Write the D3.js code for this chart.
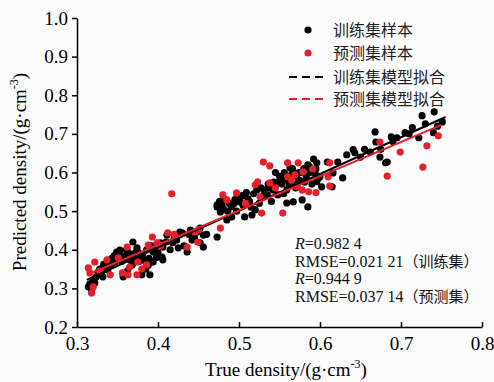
<!DOCTYPE html>
<html>
<head>
<meta charset="utf-8">
<script src="https://cdn.jsdelivr.net/npm/d3@7"></script>
<style>
  body { margin: 0; background: #fbfbfb; }
  svg { display: block; }
</style>
</head>
<body>
<svg id="chart" width="494" height="382"></svg>
<script>
// training samples [true, predicted]
const trainPts = [
  [0.314,0.304],[0.316,0.312],[0.318,0.296],[0.322,0.314],[0.320,0.322],[0.326,0.342],[0.324,0.330],[0.330,0.338],
  [0.335,0.355],[0.338,0.348],[0.342,0.360],[0.345,0.372],[0.349,0.394],[0.353,0.399],[0.350,0.380],[0.355,0.370],
  [0.357,0.330],[0.360,0.385],[0.363,0.394],[0.365,0.374],[0.368,0.360],[0.369,0.420],[0.372,0.392],[0.375,0.394],
  [0.378,0.380],[0.380,0.335],[0.382,0.350],[0.384,0.372],[0.388,0.360],[0.390,0.335],[0.394,0.368],[0.394,0.394],
  [0.398,0.380],[0.332,0.330],[0.340,0.365],[0.346,0.385],[0.362,0.345],[0.371,0.368],[0.386,0.400],[0.392,0.410],
  [0.328,0.350],[0.333,0.362],[0.343,0.378],[0.347,0.368],[0.352,0.388],[0.358,0.378],[0.361,0.400],[0.366,0.388],
  [0.370,0.382],[0.374,0.405],[0.377,0.370],[0.381,0.388],[0.385,0.350],[0.389,0.378],[0.396,0.400],[0.400,0.392],
  [0.405,0.381],[0.406,0.407],[0.406,0.374],[0.410,0.420],[0.411,0.438],[0.415,0.400],[0.420,0.430],[0.423,0.425],
  [0.427,0.446],[0.430,0.444],[0.432,0.410],[0.436,0.394],[0.440,0.451],[0.445,0.430],[0.452,0.418],[0.452,0.456],
  [0.456,0.407],[0.456,0.438],[0.460,0.440],[0.403,0.418],[0.418,0.418],[0.425,0.405],[0.438,0.440],[0.442,0.425],
  [0.448,0.445],
  [0.473,0.433],[0.473,0.511],[0.473,0.516],[0.477,0.498],[0.479,0.516],[0.481,0.505],[0.485,0.477],[0.488,0.520],
  [0.491,0.485],[0.491,0.511],[0.495,0.530],[0.497,0.500],[0.501,0.524],[0.501,0.529],[0.504,0.540],[0.507,0.485],
  [0.511,0.532],[0.515,0.510],[0.518,0.545],[0.520,0.503],[0.522,0.555],[0.525,0.520],[0.530,0.540],[0.535,0.542],
  [0.538,0.560],[0.540,0.525],[0.543,0.575],[0.547,0.573],[0.548,0.542],[0.550,0.590],[0.553,0.570],[0.556,0.600],
  [0.559,0.521],[0.559,0.555],[0.560,0.580],[0.563,0.612],[0.565,0.595],[0.567,0.524],[0.568,0.575],[0.570,0.560],
  [0.573,0.599],[0.575,0.580],[0.578,0.529],[0.580,0.610],[0.583,0.590],[0.585,0.620],[0.585,0.511],[0.588,0.600],
  [0.590,0.570],[0.592,0.635],[0.595,0.610],[0.596,0.625],[0.598,0.585],[0.600,0.589],[0.596,0.576],[0.602,0.563],
  [0.516,0.490],[0.527,0.560],[0.555,0.545],[0.545,0.600],
  [0.476,0.525],[0.483,0.530],[0.486,0.500],[0.494,0.520],[0.498,0.540],[0.505,0.515],[0.509,0.548],[0.513,0.525],
  [0.531,0.555],[0.536,0.570],[0.542,0.555],[0.551,0.580],[0.557,0.590],[0.562,0.568],[0.566,0.610],[0.571,0.590],
  [0.576,0.600],[0.581,0.575],[0.587,0.615],[0.594,0.598],
  [0.609,0.627],[0.615,0.563],[0.616,0.599],[0.622,0.627],[0.628,0.586],[0.633,0.646],[0.641,0.659],[0.643,0.651],
  [0.650,0.640],[0.655,0.660],[0.662,0.653],[0.668,0.705],[0.669,0.679],[0.674,0.640],[0.675,0.660],[0.681,0.625],
  [0.683,0.627],[0.688,0.692],[0.690,0.680],[0.695,0.690],[0.705,0.703],[0.710,0.700],[0.714,0.716],[0.722,0.690],
  [0.726,0.747],[0.730,0.726],[0.740,0.703],[0.741,0.757],[0.751,0.731],[0.745,0.720]
];

// prediction (test) samples
const testPts = [
  [0.314,0.353],[0.318,0.288],[0.320,0.304],[0.322,0.368],[0.316,0.340],[0.328,0.345],[0.337,0.374],[0.341,0.335],
  [0.351,0.379],[0.356,0.340],[0.362,0.407],[0.363,0.335],[0.365,0.355],[0.374,0.335],[0.375,0.368],[0.380,0.350],
  [0.386,0.361],[0.388,0.412],[0.393,0.433],[0.399,0.418],[0.403,0.410],[0.412,0.444],[0.417,0.545],[0.420,0.440],
  [0.436,0.407],[0.446,0.446],[0.449,0.420],[0.450,0.452],
  [0.477,0.456],[0.480,0.542],[0.485,0.529],[0.497,0.547],[0.508,0.520],[0.520,0.568],[0.523,0.576],[0.526,0.537],
  [0.528,0.495],[0.530,0.627],[0.538,0.617],[0.538,0.573],[0.545,0.560],[0.554,0.495],[0.560,0.625],[0.560,0.589],
  [0.565,0.580],[0.569,0.594],[0.572,0.563],[0.573,0.625],[0.578,0.555],[0.579,0.602],[0.586,0.550],[0.591,0.609],
  [0.595,0.548],[0.610,0.589],[0.612,0.625],[0.612,0.565],
  [0.674,0.679],[0.683,0.591],[0.699,0.653],[0.727,0.614],[0.732,0.669],[0.746,0.695]
];

// linear fits: [slope, intercept, xStart, xEnd]
const trainFit = [0.952, 0.025, 0.312, 0.755];
const testFit = [0.887, 0.058, 0.312, 0.750];

const xTicks = [0.3, 0.4, 0.5, 0.6, 0.7, 0.8];
const yTicks = [0.2, 0.3, 0.4, 0.5, 0.6, 0.7, 0.8, 0.9, 1.0];

const legendLabels = ['训练集样本', '预测集样本', '训练集模型拟合', '预测集模型拟合'];
const statLines = [
  { r: true, text: '=0.982 4' },
  { r: false, text: 'RMSE=0.021 21（训练集）' },
  { r: true, text: '=0.944 9' },
  { r: false, text: 'RMSE=0.037 14（预测集）' }
];

const RED = '#e4202a';
const serif = '"Liberation Serif", "Times New Roman", serif';
const cjk = '"Noto Sans CJK SC", sans-serif';

const svg = d3.select('#chart');

const x = d3.scaleLinear().domain([0.3, 0.8]).range([77, 482]);
const y = d3.scaleLinear().domain([0.2, 1.0]).range([327, 18]);

// axes
const xAxis = d3.axisBottom(x).tickValues(xTicks).tickFormat(d3.format('.1f'))
  .tickSizeInner(-5).tickSizeOuter(0).tickPadding(10);
const yAxis = d3.axisLeft(y).tickValues(yTicks).tickFormat(d3.format('.1f'))
  .tickSizeInner(5).tickSizeOuter(0).tickPadding(4);

const gx = svg.append('g').attr('transform', 'translate(0,327)').call(xAxis);
const gy = svg.append('g').attr('transform', 'translate(77,0)').call(yAxis);

[gx, gy].forEach(g => {
  g.select('.domain').attr('stroke', '#000').attr('stroke-width', 1.5);
  g.selectAll('.tick line').attr('stroke', '#000').attr('stroke-width', 1.5);
  g.selectAll('.tick text').attr('fill', '#000')
    .style('font-family', serif).style('font-size', '19px');
});

// points
svg.append('g').selectAll('circle').data(trainPts).join('circle')
  .attr('cx', d => x(d[0])).attr('cy', d => y(d[1])).attr('r', 3.6).attr('fill', '#000');
svg.append('g').selectAll('circle').data(testPts).join('circle')
  .attr('cx', d => x(d[0])).attr('cy', d => y(d[1])).attr('r', 3.6).attr('fill', RED);

// fit lines
function fitLine(f, color) {
  const pts = [f[2], f[3]].map(v => [x(v), y(f[0] * v + f[1])]);
  svg.append('path').attr('d', d3.line()(pts))
    .attr('stroke', color).attr('stroke-width', 2).attr('fill', 'none');
}
fitLine(trainFit, '#000');
fitLine(testFit, RED);

// legend
const legend = svg.append('g');
const legendY = [30, 53, 77, 99];
legendLabels.forEach((lab, i) => {
  const ly = legendY[i];
  const color = (i % 2 === 0) ? '#000' : RED;
  if (i < 2) {
    legend.append('circle').attr('cx', 308).attr('cy', ly).attr('r', 3.6).attr('fill', color);
  } else {
    legend.append('line').attr('x1', 289).attr('x2', 328).attr('y1', ly).attr('y2', ly)
      .attr('stroke', color).attr('stroke-width', 1.8).attr('stroke-dasharray', '8,5');
  }
  legend.append('text').attr('x', 333).attr('y', ly).attr('dy', '0.36em')
    .style('font-family', cjk).style('font-size', '16px').attr('fill', '#222')
    .text(lab);
});

// stats text
const statY = [243, 261, 278, 296];
statLines.forEach((s, i) => {
  const t = svg.append('text').attr('x', 295).attr('y', statY[i]).attr('dy', '0.36em')
    .style('font-family', serif).style('font-size', '16px').attr('fill', '#111');
  if (s.r) t.append('tspan').style('font-style', 'italic').text('R');
  const m = s.text.match(/^([^（]*)(（.*）)?$/);
  t.append('tspan').text(m[1]);
  if (m[2]) t.append('tspan').style('font-family', cjk).style('font-size', '15px').text(m[2]);
});

// axis titles
const xt = svg.append('text').attr('x', 286).attr('y', 376).attr('text-anchor', 'middle')
  .style('font-family', serif).style('font-size', '19px').attr('fill', '#000');
xt.append('tspan').text('True density/(g·cm');
xt.append('tspan').attr('dy', -8).style('font-size', '12px').text('-3');
xt.append('tspan').attr('dy', 8).text(')');

const yt = svg.append('text').attr('transform', 'translate(26,172) rotate(-90)')
  .attr('text-anchor', 'middle')
  .style('font-family', serif).style('font-size', '19px').attr('fill', '#000');
yt.append('tspan').text('Predicted density/(g·cm');
yt.append('tspan').attr('dy', -8).style('font-size', '12px').text('-3');
yt.append('tspan').attr('dy', 8).text(')');
</script>
</body>
</html>
